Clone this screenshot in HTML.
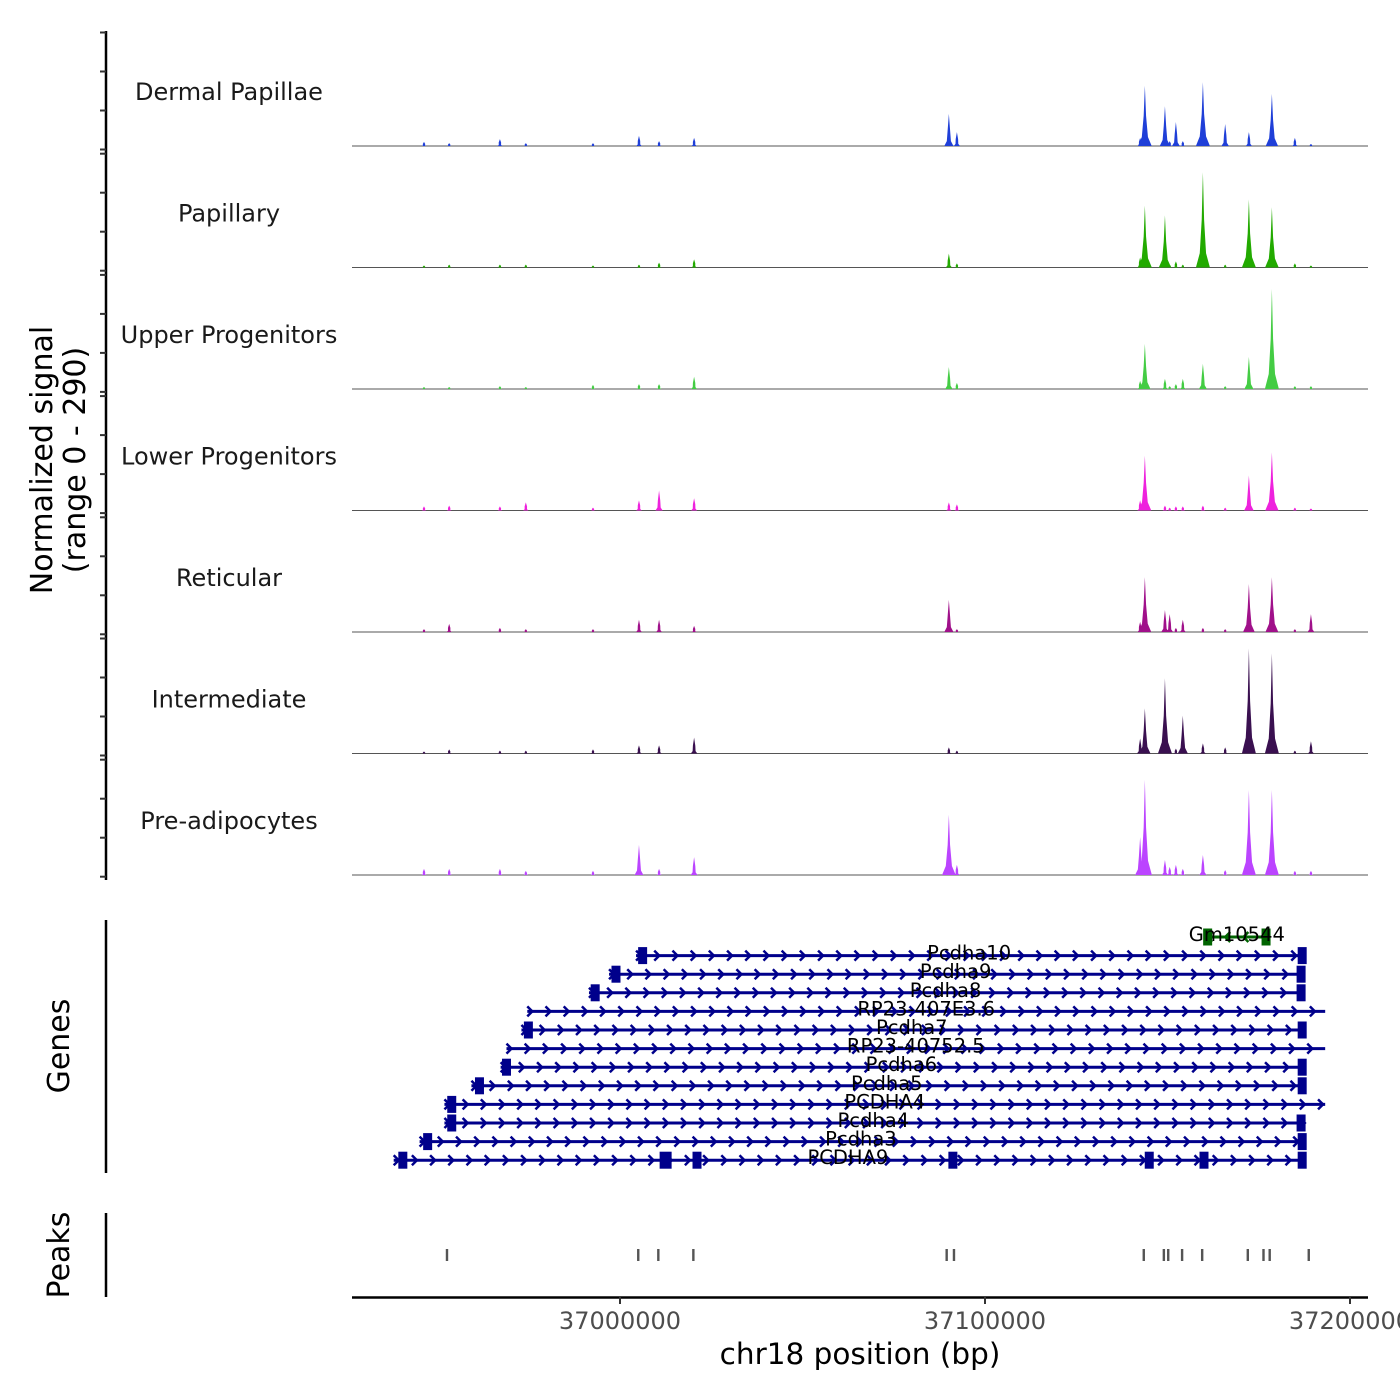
<!DOCTYPE html>
<html><head><meta charset="utf-8"><style>
body{margin:0;background:#fff}
svg{display:block;font-family:"DejaVu Sans","Liberation Sans",sans-serif}
</style></head><body>
<svg id="chart" width="1400" height="1400" viewBox="0 0 1400 1400">
<rect width="1400" height="1400" fill="#fff"/>
<g id="tracks"></g>
<g id="yaxis"></g>
<g id="genes"></g>
<g id="peaks"></g>
<g id="xaxis"></g>
<text x="52" y="460" font-size="30" fill="#000" text-anchor="middle" transform="rotate(-90 52 460)">Normalized signal</text>
<text x="85" y="460" font-size="30" fill="#000" text-anchor="middle" transform="rotate(-90 85 460)">(range 0 - 290)</text>
<text x="69" y="1046" font-size="30" fill="#000" text-anchor="middle" transform="rotate(-90 69 1046)">Genes</text>
<text x="69" y="1255" font-size="30" fill="#000" text-anchor="middle" transform="rotate(-90 69 1255)">Peaks</text>
<text x="860" y="1364" font-size="29.5" fill="#000" text-anchor="middle">chr18 position (bp)</text>
</svg>
<script>
// ---- data ----
const trackNames = ["Dermal Papillae","Papillary","Upper Progenitors","Lower Progenitors","Reticular","Intermediate","Pre-adipocytes"];
const trackColors = ["#1f3fd8","#22aa00","#44cc44","#ee22dd","#a0108a","#3a1050","#bb44ff"];
const peakPos = [36946300,36953200,36967100,36974200,36992600,37005200,37010700,37020300,37090100,37092300,37142500,37143800,37149300,37150600,37152300,37154200,37159700,37165800,37172300,37178600,37184900,37189300];
const sigDP  = [10,7,17,7,7,25,12,20,79,34,20,148,98,12,59,12,157,54,34,128,20,5];
const sigPap = [5,7,7,7,5,7,12,20,34,10,25,152,128,7,15,7,234,7,167,148,10,5];
const sigUp  = [5,5,7,5,10,12,12,30,54,15,20,111,25,7,12,25,62,7,79,246,7,7];
const sigLow = [10,12,10,20,7,25,49,30,20,15,25,135,12,7,10,10,12,7,86,143,7,5];
const sigRet = [7,20,10,7,7,30,30,15,79,7,25,135,54,44,10,30,10,7,118,135,7,44];
const sigInt = [5,10,7,7,10,20,20,39,15,7,37,111,185,12,12,93,25,15,258,246,7,30];
const sigPre = [15,15,15,10,10,74,15,44,148,25,93,234,37,20,25,15,49,12,209,209,10,10];
const signals = [sigDP,sigPap,sigUp,sigLow,sigRet,sigInt,sigPre];
const xTicks = [37000000,37100000,37200000];
const xTickLabels = ["37000000","37100000","37200000"];
const geneNames = ["Gm10544","Pcdha10","Pcdha9","Pcdha8","RP23-407E3.6","Pcdha7","RP23-40752.5","Pcdha6","Pcdha5","PCDHA4","Pcdha4","Pcdha3","PCDHA9"];
const geneStart = [37160000,37004400,36997000,36991500,36974600,36973000,36968900,36967300,36959300,36951900,36951900,36945100,36938000];
const geneEnd   = [37178000,37186900,37186900,37186900,37193200,37186900,37193200,37186900,37186900,37193200,37186900,37186900,37186900];
const geneStrand = [-1,1,1,1,1,1,1,1,1,1,1,1,1];
const geneExons = [[37161000,37177000],[37006200,37186900],[36998900,37186600],[36993200,37186600],[],[36974900,37186900],[],[36968900,37186900],[36961500,37186900],[36953900],[36953900,37186600],[36947300,37186900],[36940500,37012500,37021100,37091200,37145000,37160000,37186900]];
const peakRegions = [36952600,37005000,37010500,37020100,37089500,37091500,37143500,37149000,37150200,37154000,37159500,37172000,37176300,37178000,37188700];
const yMax = 290;

// ---- scales ----
const X0 = 620, PXKB = 3.65;
function xs(bp){return X0 + (bp-37000000)/1000*PXKB;}
const ns="http://www.w3.org/2000/svg";
function mk(tag,attrs,parent){const e=document.createElementNS(ns,tag);for(const k in attrs)e.setAttribute(k,attrs[k]);parent.appendChild(e);return e;}

// ---- tracks ----
const gT=document.getElementById('tracks');
const PH=118;
function ys(v,base){return base - v/yMax*PH;}
for(let t=0;t<7;t++){
  const base=146+121.5*t;
  const g=mk('g',{},gT);
  
  
  const lab=mk('text',{x:229,y:base-46,'font-size':24,'text-anchor':'middle',fill:'#1a1a1a'},g);
  lab.textContent=trackNames[t];
  
  
  const bl=mk('line',{x1:352,x2:1368,y1:base,y2:base,stroke:'#555','stroke-width':1},g);
  
  
  const vals=signals[t];
  for(let i=0;i<peakPos.length;i++){
    const x=xs(peakPos[i]), top=ys(vals[i],base), h=base-top;
    const w=Math.min(7,2+h*0.08);
    const d=`M${x-w},${base} L${x-w*0.45},${base-h*0.15} L${x-1.2},${base-h*0.5} L${x},${top} L${x+1.2},${base-h*0.5} L${x+w*0.45},${base-h*0.15} L${x+w},${base} Z`;
    const p=mk('path',{d:d,fill:trackColors[t]},g);
    
    
  }
}
// ---- y axis ----
const gY=document.getElementById('yaxis');
const ya=mk('line',{x1:106,x2:106,y1:31,y2:880,stroke:'#000','stroke-width':2.5},gY);


for(let t=0;t<7;t++){
  const base=149.5+121.2*t;
  for(let k=0;k<4;k++){
    const y=base-k*39;
    const tk=mk('line',{x1:100,x2:106,y1:y,y2:y,stroke:'#333','stroke-width':2},gY);
    
    
  }
}
// ---- genes ----
const gG=document.getElementById('genes');
const ga=mk('line',{x1:106,x2:106,y1:920,y2:1173,stroke:'#000','stroke-width':2.5},gG);


for(let i=0;i<geneNames.length;i++){
  const y=937+i*18.6;
  const col=i===0?'#006400':'#00008b';
  const g=mk('g',{},gG);
  
  
  const x1=xs(geneStart[i]), x2=xs(geneEnd[i]);
  mk('line',{x1:x1,x2:x2,y1:y,y2:y,stroke:col,'stroke-width':3},g);
  const dir=geneStrand[i];
  for(let x=x1+4;x<=x2+2;x+=18.2){
    const pts=dir>0?`${x-4},${y-5} ${x+1},${y} ${x-4},${y+5}`:`${x+4},${y-5} ${x-1},${y} ${x+4},${y+5}`;
    mk('polyline',{points:pts,fill:'none',stroke:col,'stroke-width':2.5},g);
  }
  geneExons[i].forEach(e=>{
    const ex=xs(e);
    const ew=(i===12&&e===37012500)?12:9;
    mk('rect',{x:ex-ew/2,y:y-8.5,width:ew,height:17,fill:col},g);
  });
  const lt=mk('text',{x:(x1+x2)/2,y:y+4,'font-size':19.5,'text-anchor':'middle',fill:'#000'},g);
  lt.textContent=geneNames[i];
  
  
}
// ---- peaks ----
const gP=document.getElementById('peaks');
const pa=mk('line',{x1:106,x2:106,y1:1213,y2:1297,stroke:'#000','stroke-width':2.5},gP);


peakRegions.forEach(p=>{
  const x=xs(p);
  const r=mk('rect',{x:x-1.2,y:1249,width:2.4,height:12,fill:'#555'},gP);
  
  
});
// ---- x axis ----
const gX=document.getElementById('xaxis');
const xa=mk('line',{x1:352,x2:1368,y1:1297.5,y2:1297.5,stroke:'#000','stroke-width':2.5},gX);


xTicks.forEach((v,i)=>{
  const x=xs(v);
  const tk=mk('line',{x1:x,x2:x,y1:1297,y2:1304,stroke:'#333','stroke-width':2},gX);
  
  
  const tl=mk('text',{x:x,y:1329,'font-size':24,'text-anchor':'middle',fill:'#4d4d4d'},gX);
  tl.textContent=xTickLabels[i];
  
  
});
</script>
</body></html>
